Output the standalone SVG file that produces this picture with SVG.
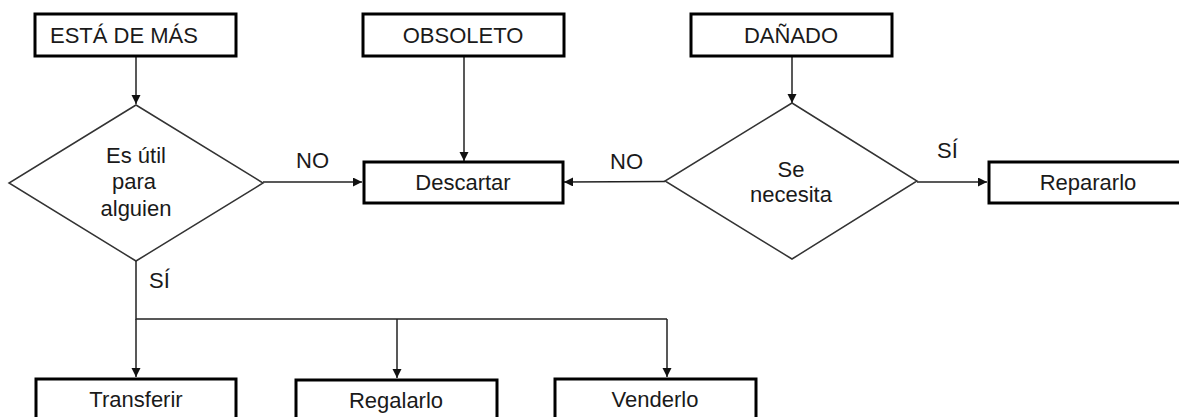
<svg xmlns="http://www.w3.org/2000/svg" width="1179" height="417" viewBox="0 0 1179 417">
  <style>
    .box { fill: #ffffff; stroke: #000000; stroke-width: 3; }
    .dia { fill: #ffffff; stroke: #333333; stroke-width: 1.5; }
    .edge { fill: none; stroke: #222222; stroke-width: 1.5; }
    .lbl { font-family: "Liberation Sans", Arial, sans-serif; font-size: 22px; fill: #1a1a1a; }
    .mid { text-anchor: middle; }
  </style>
  <defs>
    <marker id="arrow" markerUnits="userSpaceOnUse" markerWidth="10" markerHeight="10" refX="9" refY="4.5" orient="auto">
      <path d="M0,0 L9,4.5 L0,9 Z" fill="#111111"/>
    </marker>
  </defs>

  <rect width="1179" height="417" fill="#ffffff"/>

  <!-- connectors -->
  <g id="connectors">
    <line class="edge" x1="136" y1="56" x2="136" y2="104" marker-end="url(#arrow)"/>
    <line class="edge" x1="464" y1="56" x2="464" y2="161" marker-end="url(#arrow)"/>
    <line class="edge" x1="792" y1="56" x2="792" y2="103" marker-end="url(#arrow)"/>
    <line class="edge" x1="263" y1="182" x2="362" y2="182" marker-end="url(#arrow)"/>
    <line class="edge" x1="665" y1="181.5" x2="564" y2="182" marker-end="url(#arrow)"/>
    <line class="edge" x1="917" y1="182" x2="987" y2="182" marker-end="url(#arrow)"/>
    <polyline class="edge" points="136,261 136,319 667,319"/>
    <line class="edge" x1="136" y1="319" x2="136" y2="377" marker-end="url(#arrow)"/>
    <line class="edge" x1="397" y1="319" x2="397" y2="378" marker-end="url(#arrow)"/>
    <line class="edge" x1="667" y1="319" x2="667" y2="377" marker-end="url(#arrow)"/>
    <text class="lbl" x="296" y="168">NO</text>
    <text class="lbl" x="610" y="169">NO</text>
    <text class="lbl" x="149" y="288">SÍ</text>
    <text class="lbl" x="937" y="158">SÍ</text>
  </g>

  <!-- start boxes -->
  <g id="esta-de-mas">
    <rect class="box" x="35" y="14" width="201" height="42"/>
    <text class="lbl" x="50" y="43">ESTÁ DE MÁS</text>
  </g>
  <g id="obsoleto">
    <rect class="box" x="363" y="14" width="201" height="42"/>
    <text class="lbl mid" x="463" y="43">OBSOLETO</text>
  </g>
  <g id="danado">
    <rect class="box" x="691" y="14" width="201" height="42"/>
    <text class="lbl mid" x="791" y="43">DAÑADO</text>
  </g>

  <!-- decisions -->
  <g id="util">
    <polygon class="dia" points="136,105 263,183 136,261 9,183"/>
    <text class="lbl mid" x="136" y="163">Es útil</text>
    <text class="lbl mid" x="134" y="189">para</text>
    <text class="lbl mid" x="136" y="216">alguien</text>
  </g>
  <g id="necesita">
    <polygon class="dia" points="792,103 917,181 792,259 665,181"/>
    <text class="lbl mid" x="791" y="177">Se</text>
    <text class="lbl mid" x="791" y="202">necesita</text>
  </g>

  <!-- outcomes -->
  <g id="descartar">
    <rect class="box" x="364" y="162" width="199" height="41"/>
    <text class="lbl mid" x="463" y="190">Descartar</text>
  </g>
  <g id="repararlo">
    <rect class="box" x="989" y="162" width="202" height="41"/>
    <text class="lbl mid" x="1088" y="190">Repararlo</text>
  </g>
  <g id="transferir">
    <rect class="box" x="36" y="379" width="200" height="50"/>
    <text class="lbl mid" x="136" y="407">Transferir</text>
  </g>
  <g id="regalarlo">
    <rect class="box" x="296" y="380" width="201" height="50"/>
    <text class="lbl mid" x="396" y="408">Regalarlo</text>
  </g>
  <g id="venderlo">
    <rect class="box" x="555" y="379" width="201" height="50"/>
    <text class="lbl mid" x="655" y="407">Venderlo</text>
  </g>
</svg>
